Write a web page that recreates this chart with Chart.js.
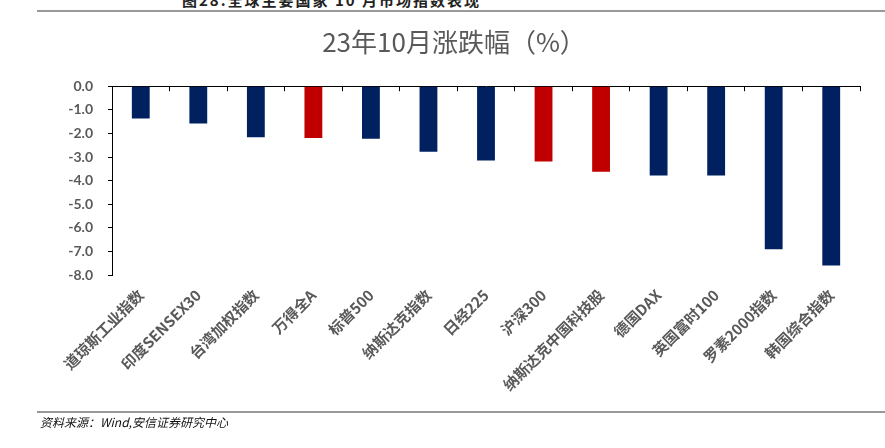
<!DOCTYPE html>
<html>
<head>
<meta charset="utf-8">
<script src="https://cdn.jsdelivr.net/npm/chart.js@4"></script>
<style>
body{margin:0;background:#fff;width:885px;height:448px;overflow:hidden;position:relative;font-family:"Noto Sans CJK SC",sans-serif;}
#caption{position:absolute;left:182px;top:-8px;font-size:15px;line-height:16px;font-weight:700;letter-spacing:2px;color:#222;white-space:nowrap;}
#topline{position:absolute;left:37px;right:0;top:10px;height:2px;background:#999;}
#box{position:absolute;left:0;top:0;width:885px;height:448px;}
#bottomline{position:absolute;left:37px;right:0;top:411px;height:2px;background:#999;}
#source{position:absolute;left:40px;top:413px;font-size:12px;font-style:italic;color:#111;white-space:nowrap;}
</style>
</head>
<body>
<div id="caption">图28:全球主要国家 10 月市场指数表现</div>
<div id="topline"></div>
<div id="box"><canvas id="chart"></canvas></div>
<div id="bottomline"></div>
<div id="source">资料来源：Wind,安信证券研究中心</div>
<script>

const categories = [
"道琼斯工业指数","印度SENSEX30","台湾加权指数","万得全A","标普500","纳斯达克指数",
"日经225","沪深300","纳斯达克中国科技股","德国DAX","英国富时100","罗素2000指数","韩国综合指数"
];

const changes = [-1.37,-1.58,-2.16,-2.19,-2.23,-2.78,-3.15,-3.19,-3.62,-3.78,-3.78,-6.91,-7.60];

const chinaMarkets = ["万得全A","沪深300","纳斯达克中国科技股"];

const yTicks = [0,-1,-2,-3,-4,-5,-6,-7,-8];

const barColors = categories.map(c => chinaMarkets.includes(c) ? "#C00000" : "#002060");

new Chart(document.getElementById("chart"), {

type:"bar",

data:{
labels:categories,
datasets:[
{
label:"涨跌幅",
data:changes,
backgroundColor:barColors,
categoryPercentage:1,
barPercentage:0.31
}
]
},

options:{
responsive:true,
maintainAspectRatio:false,
animation:false,
layout:{padding:{left:48,right:25,top:0,bottom:0}},
plugins:{
legend:{display:false},
tooltip:{enabled:false},
title:{
display:true,
text:"23年10月涨跌幅（%）",
color:"#595959",
font:{family:"Noto Sans CJK SC",size:26,weight:"normal"},
padding:{top:27,bottom:28}
}
},
scales:{
x:{
position:"bottom",
grid:{display:false},
border:{display:false},
ticks:{
autoSkip:false,
minRotation:45,
maxRotation:45,
padding:3,
color:"#595959",
font:{family:"Noto Sans CJK SC",size:15,weight:"bold"}
},
afterFit(scale){ scale.height = 173; }
},
x2:{
type:"category",
position:"top",
offset:true,
grid:{offset:true,drawOnChartArea:false,tickLength:-5,color:"#000"},
border:{color:"#000",width:1},
ticks:{display:false},
afterFit(scale){ scale.height = 0; }
},
y:{
min:-8,
max:0,
afterBuildTicks(scale){ scale.ticks = yTicks.map(v => ({value:v})); },
grid:{drawOnChartArea:false,tickLength:4,color:"#000"},
border:{color:"#000",width:1},
ticks:{
padding:15,
color:"#595959",
font:{family:"Lato",size:14,weight:"bold"},
callback:v => v.toFixed(1)
},
afterFit(scale){ scale.width = 64; }
}
}
}

});

</script>
</body>
</html>
